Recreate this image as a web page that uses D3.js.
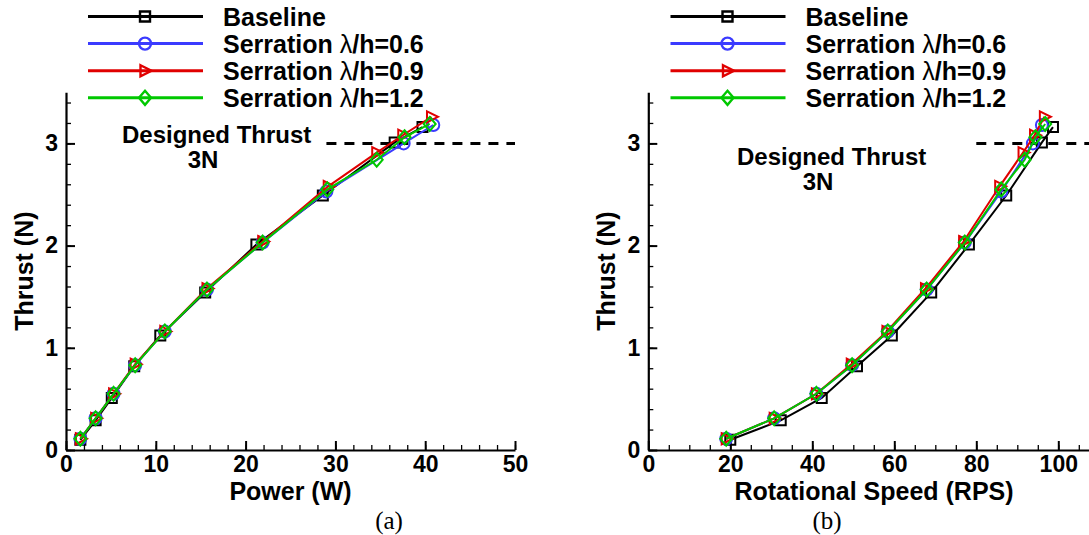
<!DOCTYPE html>
<html>
<head>
<meta charset="utf-8">
<script src="https://cdn.jsdelivr.net/npm/d3@7"></script>
<style>
  html, body { margin: 0; padding: 0; background: #fff; }
  svg { display: block; }
  text { font-family: "Liberation Sans", Arial, sans-serif; font-weight: bold; fill: #000; }
  text.caption { font-family: "Liberation Serif", "Times New Roman", serif; font-weight: normal; }
  tspan.greek { font-weight: normal; }
</style>
</head>
<body>
<svg id="fig" width="1089" height="535"></svg>
<script>
// ---- data -------------------------------------------------------------
const seriesLabels = ["Baseline", "0.6", "0.9", "1.2"];   // λ/h of each serrated edge

// Thrust (N)
const thrustBaseline = [0.10, 0.29, 0.51, 0.82, 1.12, 1.54, 2.01, 2.49, 3.01, 3.16];
const thrustS06      = [0.11, 0.31, 0.55, 0.83, 1.16, 1.57, 2.03, 2.53, 3.00, 3.18];
const thrustS09      = [0.11, 0.31, 0.55, 0.84, 1.16, 1.58, 2.04, 2.58, 2.91, 3.08, 3.26];
const thrustS12      = [0.11, 0.31, 0.55, 0.83, 1.16, 1.57, 2.03, 2.55, 2.84, 3.06, 3.19];

// Power (W)
const powerBaseline = [1.6, 3.3, 5.1, 7.6, 10.5, 15.5, 21.2, 28.6, 36.6, 39.7];
const powerS06      = [1.6, 3.3, 5.3, 7.7, 11.0, 15.7, 21.9, 29.0, 37.6, 40.9];
const powerS09      = [1.6, 3.3, 5.3, 7.7, 11.0, 15.7, 21.9, 29.2, 34.6, 37.5, 40.7];
const powerS12      = [1.6, 3.3, 5.3, 7.7, 11.0, 15.7, 21.9, 29.1, 34.6, 37.7, 40.5];

// Rotational speed (RPS)
const rpsBaseline = [20.0, 32.3, 42.3, 50.9, 59.4, 69.0, 78.2, 87.3, 96.0, 98.7];
const rpsS06      = [19.0, 30.7, 41.0, 49.7, 58.4, 67.9, 77.2, 86.1, 93.8, 96.0];
const rpsS09      = [19.0, 30.7, 41.0, 49.5, 58.2, 67.6, 76.9, 85.7, 91.4, 94.2, 96.6];
const rpsS12      = [19.0, 30.7, 41.0, 49.7, 58.4, 67.9, 77.2, 86.1, 91.8, 94.4, 96.8];

// Axis ticks
const thrustTicks = [0, 1, 2, 3];
const powerTicks  = [0, 10, 20, 30, 40, 50];
const rpsTicks    = [0, 20, 40, 60, 80, 100];

// Design point
const designedThrust = 3;

// ---- styling ----------------------------------------------------------
const colors  = ["#000000", "#3b3bff", "#e00000", "#00c800"];
const symbols = ["square", "circle", "triangle", "diamond"];

function markerPath(kind) {
  switch (kind) {
    case "square":   return "M-5,-5H5V5H-5Z";
    case "circle":   return "M6,0A6,6 0 1,1 -6,0A6,6 0 1,1 6,0Z";
    case "triangle": return "M-4.5,-5.5L6.5,0L-4.5,5.5Z";
    case "diamond":  return "M0,-7L6,0L0,7L-6,0Z";
  }
}

const svg = d3.select("#fig");

const yTop = 92.3, yBottom = 450;
const yScale = d3.scaleLinear().domain([0, 3.5]).range([yBottom, yTop]);

function drawPanel(opt) {
  const x = d3.scaleLinear().domain(opt.domain).range(opt.range);
  const g = svg.append("g");

  // minor ticks
  g.append("g")
    .attr("transform", `translate(0,${yBottom})`)
    .call(d3.axisBottom(x).tickValues(d3.range(opt.domain[0], opt.domain[1] + 1e-9, opt.minorStep))
      .tickSize(-5).tickSizeOuter(0).tickFormat(""))
    .call(s => s.select(".domain").remove())
    .selectAll("line").attr("stroke-width", 1.3);
  g.append("g")
    .attr("transform", `translate(${opt.range[0]},0)`)
    .call(d3.axisLeft(yScale).tickValues(d3.range(0, 3.5001, 0.2))
      .tickSize(-5).tickSizeOuter(0).tickFormat(""))
    .call(s => s.select(".domain").remove())
    .selectAll("line").attr("stroke-width", 1.3);

  // major ticks and labels
  const xa = g.append("g")
    .attr("transform", `translate(0,${yBottom})`)
    .call(d3.axisBottom(x).tickValues(opt.ticks).tickSize(-9).tickSizeOuter(0).tickPadding(6)
      .tickFormat(d3.format("d")));
  xa.selectAll("text").attr("font-size", 23);
  xa.selectAll("line").attr("stroke-width", 2);
  xa.select(".domain").attr("stroke-width", 2.2);

  const ya = g.append("g")
    .attr("transform", `translate(${opt.range[0]},0)`)
    .call(d3.axisLeft(yScale).tickValues(thrustTicks).tickSize(-9).tickSizeOuter(0).tickPadding(8)
      .tickFormat(d3.format("d")));
  ya.selectAll("text").attr("font-size", 23);
  ya.selectAll("line").attr("stroke-width", 2);
  ya.select(".domain").attr("stroke-width", 2.2);
  svg.selectAll(".tick text").attr("fill", "#000");
  svg.selectAll(".domain, .tick line").attr("stroke", "#000");

  // axis titles
  g.append("text")
    .attr("x", opt.titleX).attr("y", 500)
    .attr("text-anchor", "middle").attr("font-size", 25)
    .text(opt.xTitle);
  g.append("text")
    .attr("transform", `translate(${opt.range[0] - 33},${(yTop + yBottom) / 2}) rotate(-90)`)
    .attr("text-anchor", "middle").attr("font-size", 25)
    .text("Thrust (N)");

  // design thrust marker line
  g.append("line")
    .attr("x1", x(opt.dashFrom)).attr("x2", x(opt.domain[1]))
    .attr("y1", yScale(designedThrust)).attr("y2", yScale(designedThrust))
    .attr("stroke", "#000").attr("stroke-width", 3)
    .attr("stroke-dasharray", "10,8");
  g.append("text")
    .attr("x", opt.noteX).attr("y", opt.noteY)
    .attr("font-size", 24)
    .text("Designed Thrust");
  g.append("text")
    .attr("x", opt.noteX + 81).attr("y", opt.noteY + 25)
    .attr("text-anchor", "middle").attr("font-size", 24)
    .text("3N");

  // series
  const line = d3.line().x(d => x(d[0])).y(d => yScale(d[1]));
  opt.xs.forEach((xs, i) => {
    const pts = xs.map((v, k) => [v, opt.ys[i][k]]);
    g.append("path")
      .datum(pts)
      .attr("d", line)
      .attr("fill", "none")
      .attr("stroke", colors[i])
      .attr("stroke-width", 2);
    g.selectAll(null)
      .data(pts)
      .enter().append("path")
      .attr("d", markerPath(symbols[i]))
      .attr("transform", d => `translate(${x(d[0])},${yScale(d[1])})`)
      .attr("fill", "none")
      .attr("stroke", colors[i])
      .attr("stroke-width", 2);
  });

  // legend
  const rowY = [16.5, 43.6, 70.7, 97.8];
  seriesLabels.forEach((lab, i) => {
    const lg = g.append("g").attr("transform", `translate(${opt.legendX},${rowY[i]})`);
    lg.append("line")
      .attr("x1", 0).attr("x2", 115).attr("y1", 0).attr("y2", 0)
      .attr("stroke", colors[i]).attr("stroke-width", 3);
    lg.append("path")
      .attr("d", markerPath(symbols[i]))
      .attr("transform", "translate(57,0)")
      .attr("fill", "none").attr("stroke", colors[i]).attr("stroke-width", 2.4);
    const t = lg.append("text")
      .attr("x", 135).attr("y", 0).attr("dy", "0.36em")
      .attr("font-size", 25);
    if (i === 0) {
      t.text(lab);
    } else {
      t.append("tspan").text("Serration ");
      t.append("tspan").attr("class", "greek").text("λ");
      t.append("tspan").text("/h=" + lab);
    }
  });

  // panel caption
  svg.append("text")
    .attr("class", "caption")
    .attr("x", opt.captionX).attr("y", 529)
    .attr("text-anchor", "middle")
    .attr("font-size", 25)
    .text(opt.caption);
}

drawPanel({
  domain: [0, 50], range: [66, 515], ticks: powerTicks, minorStep: 2,
  xTitle: "Power (W)", titleX: 290.5,
  dashFrom: 29, noteX: 122, noteY: 143,
  xs: [powerBaseline, powerS06, powerS09, powerS12],
  ys: [thrustBaseline, thrustS06, thrustS09, thrustS12],
  legendX: 88, caption: "(a)", captionX: 389
});

drawPanel({
  domain: [0, 110], range: [648.3, 1099.3], ticks: rpsTicks, minorStep: 5,
  xTitle: "Rotational Speed (RPS)", titleX: 874,
  dashFrom: 80, noteX: 737, noteY: 165,
  xs: [rpsBaseline, rpsS06, rpsS09, rpsS12],
  ys: [thrustBaseline, thrustS06, thrustS09, thrustS12],
  legendX: 670.5, caption: "(b)", captionX: 827
});
</script>
</body>
</html>
